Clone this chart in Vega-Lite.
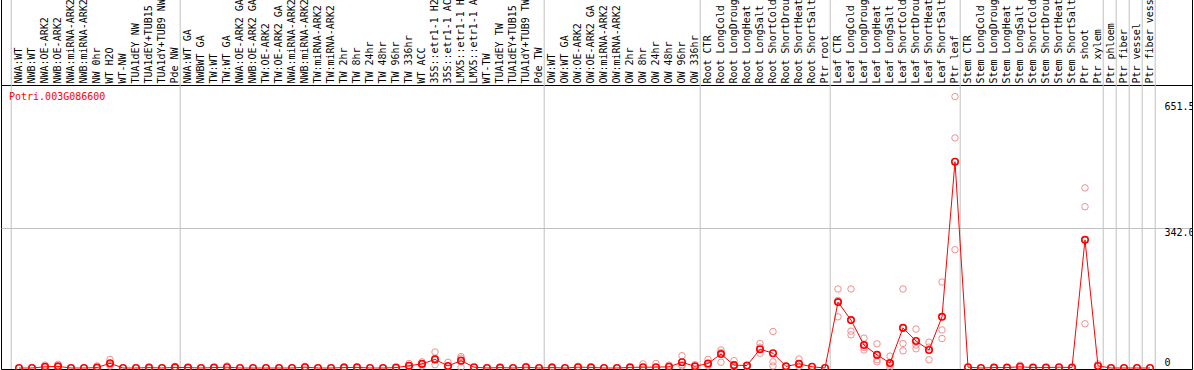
{
  "$schema": "https://vega.github.io/schema/vega-lite/v6.json",
  "width": 1191,
  "height": 370,
  "autosize": {"type": "none"},
  "padding": {"left": 1, "top": -1, "right": 1, "bottom": 1},
  "background": "white",
  "config": {"view": {"stroke": "black", "strokeWidth": 1}},
  "datasets": {
    "bounds": [{"i": 0.4}, {"i": 13.4}, {"i": 41.4}, {"i": 53.4}, {"i": 63.4}, {"i": 73.4}, {"i": 84.4}, {"i": 85.4}, {"i": 86.4}, {"i": 87.4}, {"i": 88.4}],
    "means": [
      {"i": 1, "v": 0}, {"i": 2, "v": 0}, {"i": 3, "v": 3}, {"i": 4, "v": 4}, {"i": 5, "v": 0}, {"i": 6, "v": 0}, {"i": 7, "v": 1}, {"i": 8, "v": 11.5}, {"i": 9, "v": 0}, {"i": 10, "v": 0},
      {"i": 11, "v": 1}, {"i": 12, "v": 0}, {"i": 13, "v": 1.5}, {"i": 14, "v": 1}, {"i": 15, "v": 0}, {"i": 16, "v": 1}, {"i": 17, "v": 2}, {"i": 18, "v": 0}, {"i": 19, "v": 0}, {"i": 20, "v": 0},
      {"i": 21, "v": 0}, {"i": 22, "v": 0}, {"i": 23, "v": 2}, {"i": 24, "v": 0}, {"i": 25, "v": 0}, {"i": 26, "v": 1}, {"i": 27, "v": 1.5}, {"i": 28, "v": 0}, {"i": 29, "v": 0}, {"i": 30, "v": 1},
      {"i": 31, "v": 5.5}, {"i": 32, "v": 10}, {"i": 33, "v": 21}, {"i": 34, "v": 5}, {"i": 35, "v": 18}, {"i": 36, "v": 2}, {"i": 37, "v": 0}, {"i": 38, "v": 1}, {"i": 39, "v": 0}, {"i": 40, "v": 2},
      {"i": 41, "v": 0}, {"i": 42, "v": 1}, {"i": 43, "v": 0}, {"i": 44, "v": 2}, {"i": 45, "v": 1.5}, {"i": 46, "v": 0}, {"i": 47, "v": 0}, {"i": 48, "v": 1.5}, {"i": 49, "v": 2}, {"i": 50, "v": 2},
      {"i": 51, "v": 3}, {"i": 52, "v": 14}, {"i": 53, "v": 4}, {"i": 54, "v": 11}, {"i": 55, "v": 34}, {"i": 56, "v": 7}, {"i": 57, "v": 6}, {"i": 58, "v": 46}, {"i": 59, "v": 36}, {"i": 60, "v": 4},
      {"i": 61, "v": 10}, {"i": 62, "v": 3}, {"i": 63, "v": 0}, {"i": 64, "v": 161}, {"i": 65, "v": 117}, {"i": 66, "v": 56}, {"i": 67, "v": 32}, {"i": 68, "v": 12}, {"i": 69, "v": 98}, {"i": 70, "v": 66},
      {"i": 71, "v": 44}, {"i": 72, "v": 125}, {"i": 73, "v": 504}, {"i": 74, "v": 2}, {"i": 75, "v": 0}, {"i": 76, "v": 1}, {"i": 77, "v": 1}, {"i": 78, "v": 3}, {"i": 79, "v": 1}, {"i": 80, "v": 1},
      {"i": 81, "v": 2}, {"i": 82, "v": 1}, {"i": 83, "v": 313}, {"i": 84, "v": 5}, {"i": 85, "v": 0}, {"i": 86, "v": 0}, {"i": 87, "v": 0}, {"i": 88, "v": 0}
    ],
    "reps": [
      {"i": 3, "v": 7}, {"i": 3, "v": 2}, {"i": 4, "v": 9}, {"i": 4, "v": 3}, {"i": 7, "v": 5}, {"i": 8, "v": 21}, {"i": 8, "v": 5}, {"i": 8, "v": 8},
      {"i": 13, "v": 4}, {"i": 17, "v": 5}, {"i": 23, "v": 4}, {"i": 26, "v": 3},
      {"i": 31, "v": 11}, {"i": 31, "v": 3}, {"i": 32, "v": 15}, {"i": 32, "v": 5}, {"i": 33, "v": 39}, {"i": 33, "v": 8}, {"i": 33, "v": 23},
      {"i": 34, "v": 14}, {"i": 34, "v": 3}, {"i": 35, "v": 28}, {"i": 35, "v": 2}, {"i": 35, "v": 24},
      {"i": 40, "v": 4}, {"i": 42, "v": 3}, {"i": 44, "v": 4}, {"i": 49, "v": 10}, {"i": 50, "v": 11}, {"i": 51, "v": 7},
      {"i": 52, "v": 30}, {"i": 52, "v": 5}, {"i": 52, "v": 8}, {"i": 53, "v": 8},
      {"i": 54, "v": 21}, {"i": 54, "v": 5}, {"i": 54, "v": 8}, {"i": 55, "v": 44}, {"i": 55, "v": 14}, {"i": 55, "v": 38},
      {"i": 56, "v": 18}, {"i": 56, "v": 2}, {"i": 57, "v": 3}, {"i": 58, "v": 60}, {"i": 58, "v": 36}, {"i": 58, "v": 51},
      {"i": 59, "v": 89}, {"i": 59, "v": 15}, {"i": 59, "v": 5}, {"i": 61, "v": 22}, {"i": 61, "v": 4},
      {"i": 64, "v": 193}, {"i": 64, "v": 125}, {"i": 64, "v": 165},
      {"i": 65, "v": 193}, {"i": 65, "v": 90}, {"i": 65, "v": 81},
      {"i": 66, "v": 73}, {"i": 66, "v": 44}, {"i": 66, "v": 50},
      {"i": 67, "v": 59}, {"i": 67, "v": 20}, {"i": 67, "v": 15},
      {"i": 68, "v": 29}, {"i": 68, "v": 7}, {"i": 68, "v": 2},
      {"i": 69, "v": 193}, {"i": 69, "v": 60}, {"i": 69, "v": 42},
      {"i": 70, "v": 95}, {"i": 70, "v": 56}, {"i": 70, "v": 47},
      {"i": 71, "v": 51}, {"i": 71, "v": 20}, {"i": 71, "v": 63},
      {"i": 72, "v": 210}, {"i": 72, "v": 93}, {"i": 72, "v": 72},
      {"i": 73, "v": 663}, {"i": 73, "v": 562}, {"i": 73, "v": 289},
      {"i": 78, "v": 7},
      {"i": 83, "v": 440}, {"i": 83, "v": 394}, {"i": 83, "v": 108},
      {"i": 84, "v": 10}
    ],
    "gene": [{"label": "Potri.003G086600", "i": 0.23, "v": 662}]
  },
  "encoding": {
    "x": {
      "field": "i",
      "type": "quantitative",
      "scale": {"domain": [-0.3846, 91.2308], "nice": false, "zero": false},
      "axis": {
        "orient": "top",
        "offset": -86,
        "values": [1,2,3,4,5,6,7,8,9,10,11,12,13,14,15,16,17,18,19,20,21,22,23,24,25,26,27,28,29,30,31,32,33,34,35,36,37,38,39,40,41,42,43,44,45,46,47,48,49,50,51,52,53,54,55,56,57,58,59,60,61,62,63,64,65,66,67,68,69,70,71,72,73,74,75,76,77,78,79,80,81,82,83,84,85,86,87,88],
        "labelExpr": "['NWA:WT','NWB:WT','NWA:OE-ARK2','NWB:OE-ARK2','NWA:miRNA-ARK2','NWB:miRNA-ARK2','NW 0hr','WT H2O','WT-NW','TUA1dEY NW','TUA1dEY+TUB15 NW','TUA1dY+TUB9 NW','Pde NW','NWA:WT GA','NWBWT GA','TW:WT','TW:WT GA','NWA:OE-ARK2 GA','NWB:OE-ARK2 GA','TW:OE-ARK2','TW:OE-ARK2 GA','NWA:miRNA-ARK2 GA','NWB:miRNA-ARK2 GA','TW:miRNA-ARK2','TW:miRNA-ARK2 GA','TW 2hr','TW 8hr','TW 24hr','TW 48hr','TW 96hr','TW 336hr','WT ACC','35S::etr1-1 H2O','35S::etr1-1 ACC','LMX5::etr1-1 H2O','LMX5::etr1-1 ACC','WT-TW','TUA1dEY TW','TUA1dEY+TUB15 TW','TUA1dY+TUB9 TW','Pde TW','OW:WT','OW:WT GA','OW:OE-ARK2','OW:OE-ARK2 GA','OW:miRNA-ARK2','OW:miRNA-ARK2 GA','OW 2hr','OW 8hr','OW 24hr','OW 48hr','OW 96hr','OW 336hr','Root CTR','Root LongCold','Root LongDrought','Root LongHeat','Root LongSalt','Root ShortCold','Root ShortDrought','Root ShortHeat','Root ShortSalt','Ptr root','Leaf CTR','Leaf LongCold','Leaf LongDrought','Leaf LongHeat','Leaf LongSalt','Leaf ShortCold','Leaf ShortDrought','Leaf ShortHeat','Leaf ShortSalt','Ptr leaf','Stem CTR','Stem LongCold','Stem LongDrought','Stem LongHeat','Stem LongSalt','Stem ShortCold','Stem ShortDrought','Stem ShortHeat','Stem ShortSalt','Ptr shoot','Ptr xylem','Ptr phloem','Ptr fiber','Ptr vessel','Ptr fiber vessel'][datum.value-1]",
        "labelAngle": -90,
        "labelAlign": "left",
        "labelBaseline": "middle",
        "labelPadding": 2,
        "ticks": false,
        "tickSize": 0,
        "domain": true,
        "domainColor": "black",
        "domainWidth": 1,
        "grid": false,
        "title": null,
        "labelFont": "DejaVu Sans Mono",
        "labelFontSize": 10,
        "labelColor": "black",
        "labelOverlap": false,
        "labelFlush": false,
        "labelBound": false
      }
    }
  },
  "layer": [
    {
      "data": {"name": "bounds"},
      "mark": {"type": "rule", "color": "#c0c0c0", "strokeWidth": 1},
      "encoding": {}
    },
    {
      "data": {"name": "reps"},
      "mark": {"type": "point", "shape": "circle", "filled": false, "color": "#f09090", "strokeWidth": 1, "size": 42, "opacity": 1},
      "encoding": {
        "y": {
          "field": "v",
          "type": "quantitative",
          "scale": {"domain": [-2.443, 901.41], "nice": false, "zero": false},
          "axis": {
            "orient": "right",
            "offset": -29,
            "values": [0, 342, 651.5],
            "labelExpr": "datum.value == 0 ? '0' : format(datum.value, '.1f')",
            "labelAlign": "left",
            "labelBaseline": {"condition": {"test": "datum.value == 0", "value": "bottom"}, "value": "top"},
            "labelPadding": 1,
            "ticks": false,
            "tickSize": 0,
            "domain": false,
            "grid": true,
            "gridColor": "#c0c0c0",
            "gridWidth": 1,
            "gridOpacity": {"condition": {"test": "datum.value == 342", "value": 1}, "value": 0},
            "title": null,
            "labelFont": "DejaVu Sans Mono",
            "labelFontSize": 10,
            "labelColor": "black",
            "labelOverlap": false,
            "labelFlush": false,
            "labelBound": false
          }
        }
      }
    },
    {
      "data": {"name": "means"},
      "mark": {"type": "line", "color": "#ff0000", "strokeWidth": 1},
      "encoding": {"y": {"field": "v", "type": "quantitative"}}
    },
    {
      "data": {"name": "means"},
      "mark": {"type": "point", "shape": "circle", "filled": false, "color": "#ff0000", "strokeWidth": 1.6, "size": 42, "opacity": 1},
      "encoding": {"y": {"field": "v", "type": "quantitative"}}
    },
    {
      "data": {"name": "gene"},
      "mark": {"type": "text", "align": "left", "baseline": "middle", "color": "#ff0000", "font": "DejaVu Sans Mono", "fontSize": 10},
      "encoding": {
        "y": {"field": "v", "type": "quantitative"},
        "text": {"field": "label", "type": "nominal"}
      }
    }
  ]
}
